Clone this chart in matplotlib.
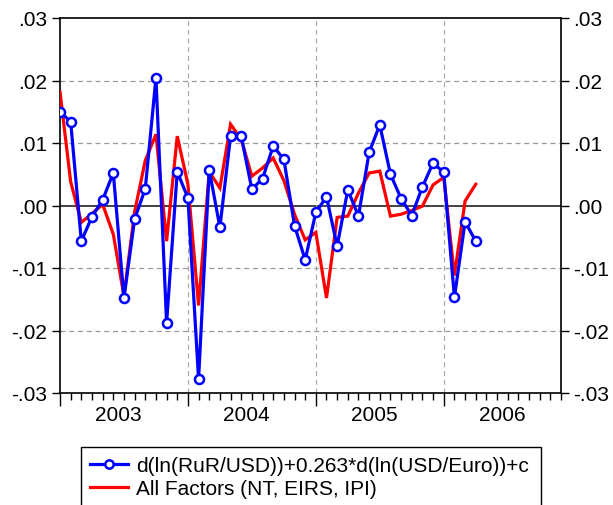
import numpy as np
import matplotlib
matplotlib.use("Agg")
import matplotlib.pyplot as plt
from matplotlib.patches import Rectangle
from matplotlib.lines import Line2D
import matplotlib.transforms as mtransforms

plt.rcParams['font.family'] = ['Liberation Sans', 'DejaVu Sans']

# monthly data starting Jan 2003 (index 0)
blue_vals = [0.0150, 0.0134, -0.0057, -0.0018, 0.0009, 0.0052, -0.0148, -0.0022,
             0.0027, 0.0204, -0.0188, 0.0054, 0.0012, -0.0278, 0.0057, -0.0035,
             0.0111, 0.0111, 0.0026, 0.0043, 0.0095, 0.0074, -0.0032, -0.0087,
             -0.0011, 0.0014, -0.0065, 0.0025, -0.0017, 0.0085, 0.0129, 0.0050,
             0.0011, -0.0016, 0.0030, 0.0068, 0.0053, -0.0147, -0.0026, -0.0057]
red_vals = [0.0182, 0.0038, -0.0027, -0.0013, 0.0002, -0.0046, -0.0145, -0.0010,
            0.0072, 0.0114, -0.0057, 0.0111, 0.0034, -0.0160, 0.0054, 0.0028,
            0.0130, 0.0106, 0.0047, 0.0060, 0.0076, 0.0040, -0.0014, -0.0055,
            -0.0043, -0.0148, -0.0019, -0.0017, 0.0020, 0.0052, 0.0055, -0.0017,
            -0.0014, -0.0008, -0.0001, 0.0033, 0.0045, -0.0112, 0.0007, 0.0034]
years = ["2003", "2004", "2005", "2006"]
yticks = [-0.03, -0.02, -0.01, 0.00, 0.01, 0.02, 0.03]
ytick_labels = ["-.03", "-.02", "-.01", ".00", ".01", ".02", ".03"]
blue_label = "d(ln(RuR/USD))+0.263*d(ln(USD/Euro))+c"
red_label = "All Factors (NT, EIRS, IPI)"

FS = 15
LFS = 15
W, H = 613, 506
fig = plt.figure(figsize=(W/100, H/100), dpi=100)
ax = fig.add_axes([60/W, 1-394/H, 501/W, 375/H])

n_months = len(years) * 12
x_b = np.arange(len(blue_vals))
x_r = np.arange(len(red_vals))

ax.set_xlim(0, n_months - 1)
ax.set_ylim(-0.03, 0.03)

# grid
for yv in yticks:
    if yv == 0:
        ax.axhline(0, color='#333333', lw=1.3, zorder=1)
    elif abs(yv) < 0.03:
        ax.axhline(yv, color='#999999', lw=0.9, ls=(0, (4, 3)), zorder=1)
for k in range(1, len(years)):
    ax.axvline(12 * k, color='#aaaaaa', lw=0.9, ls=(0, (4, 3)), zorder=1)

ax.plot(x_r, red_vals, color='#ff0000', lw=2.3, zorder=3, solid_joinstyle='miter')
ax.plot(x_b, blue_vals, color='#0000ff', lw=2.3, marker='o', ms=6.5, mfc='white',
        mec='#0000ff', mew=1.8, zorder=4)

# y axis ticks both sides
ax.set_yticks(yticks)
ax.set_yticklabels(ytick_labels)
ax.tick_params(axis='y', which='both', direction='out', length=6, width=1,
               left=True, right=True, labelleft=True, labelright=True,
               labelsize=FS, pad=3)

# x axis ticks
ax.set_xticks([12 * k for k in range(len(years))])
ax.set_xticklabels([])
ax.set_xticks(np.arange(0, n_months), minor=True)
ax.tick_params(axis='x', which='major', direction='out', length=9, width=1)
ax.tick_params(axis='x', which='minor', direction='out', length=5, width=1)
trans = mtransforms.blended_transform_factory(ax.transData, ax.transAxes)
for k, yl in enumerate(years):
    ax.text(12 * k + 5.5, -0.057, yl, transform=trans, ha='center', va='center',
            fontsize=FS)

for sp in ax.spines.values():
    sp.set_linewidth(1.2)

# legend
rect = Rectangle((81/W, -0.05), (541-81)/W, 1-448/H+0.05, transform=fig.transFigure,
                 fill=False, edgecolor='black', lw=1.0)
fig.patches.append(rect)
handles = [Line2D([], [], color='#0000ff', lw=2.3, marker='o', ms=6, mfc='white',
                  mec='#0000ff', mew=1.8),
           Line2D([], [], color='#ff0000', lw=2.3)]
fig.legend(handles, [blue_label, red_label], loc='upper left',
           bbox_to_anchor=(90/W, 1-457/H), frameon=False, fontsize=LFS,
           handlelength=1.8, handletextpad=0.4, labelspacing=0.2, borderpad=0.0,
           borderaxespad=0.0)

fig.savefig("out.png", dpi=100)
